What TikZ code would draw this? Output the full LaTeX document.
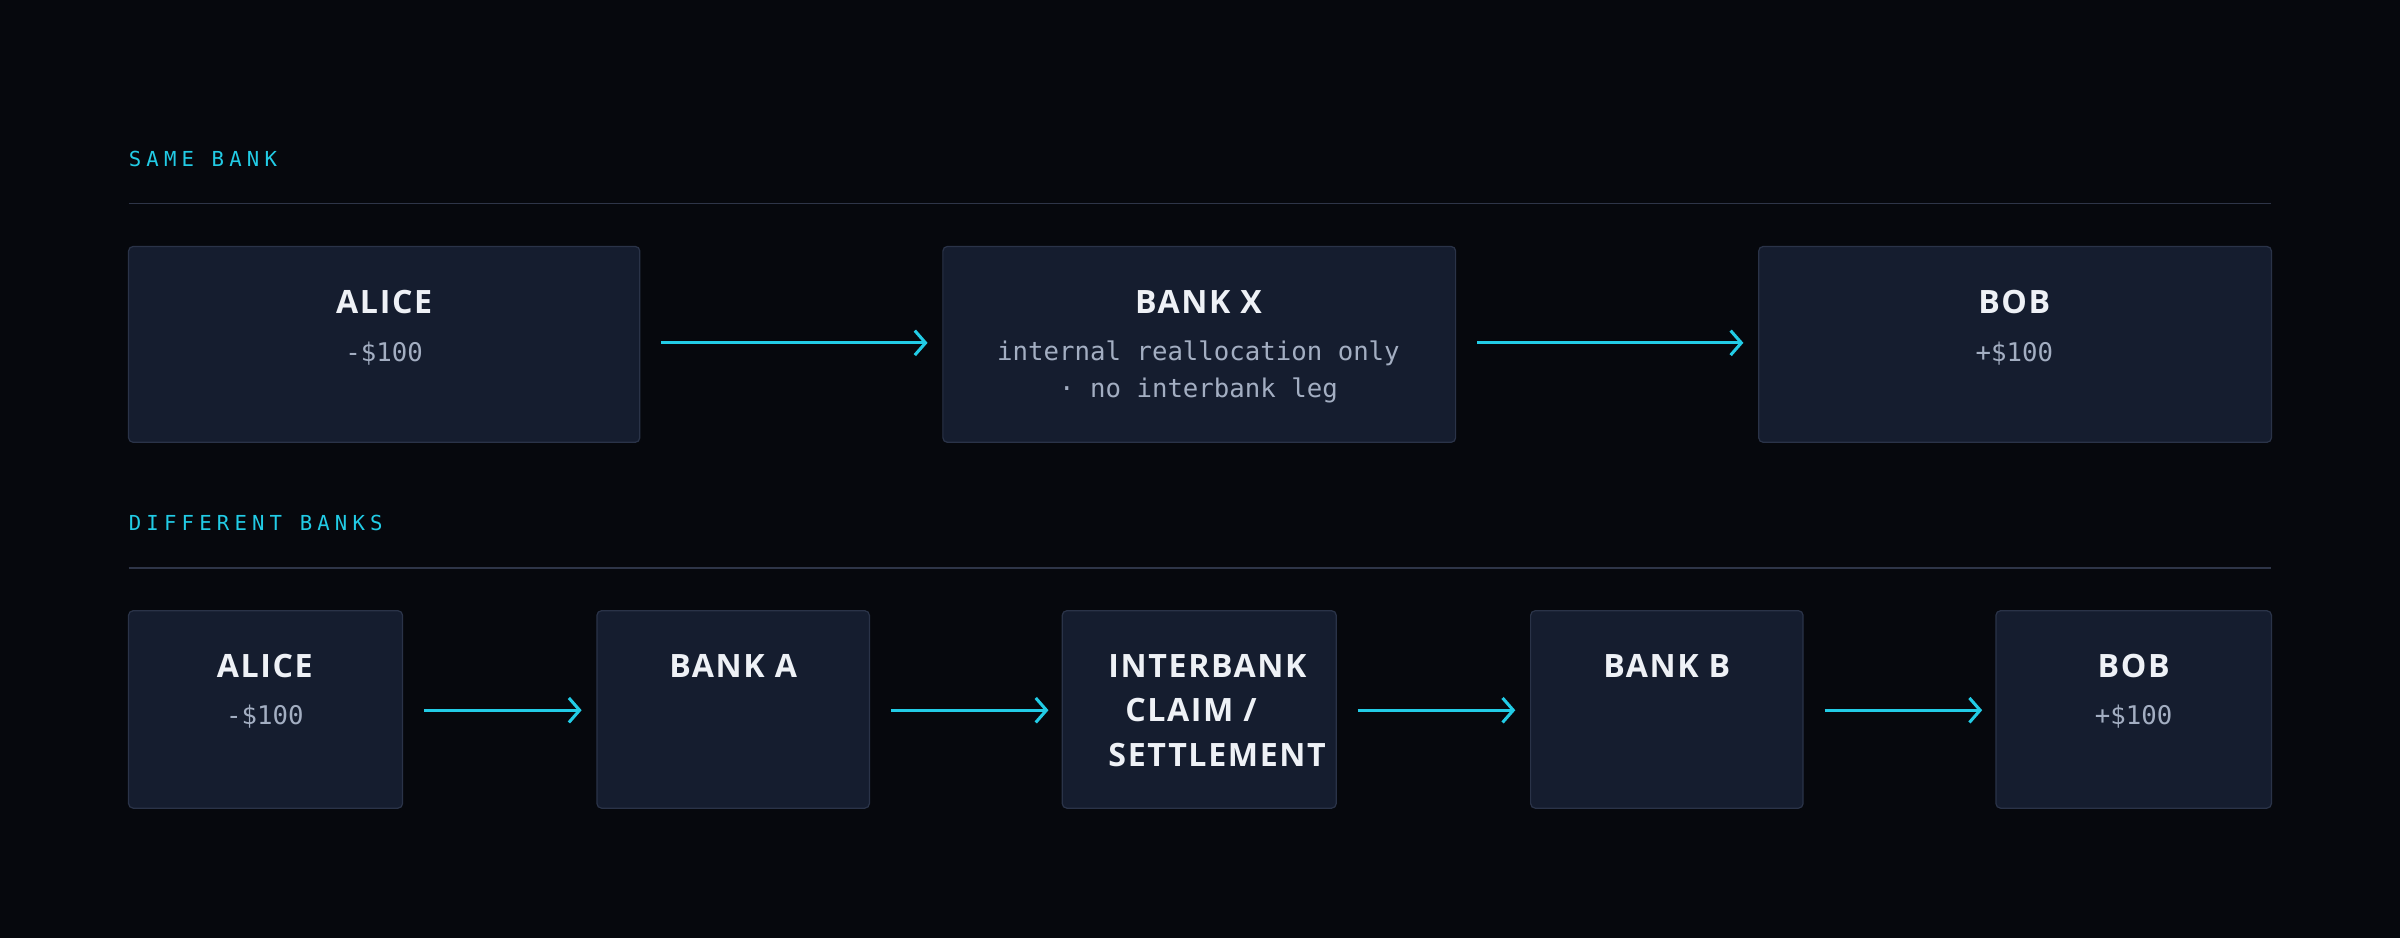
\documentclass[tikz,border=0pt]{standalone}
\usepackage{fontspec}
\setmainfont{Open Sans}
\newfontfamily\ttlf{Open Sans}[LetterSpace=5]
\newfontfamily\monof{DejaVu Sans Mono}
\newfontfamily\labf{DejaVu Sans Mono}[LetterSpace=25]
\usetikzlibrary{arrows.meta}
\definecolor{bg}{HTML}{06080D}
\definecolor{boxf}{HTML}{151D2F}
\definecolor{boxd}{HTML}{2A3348}
\definecolor{cy}{HTML}{22CCE6}
\definecolor{rule}{HTML}{2E3548}
\definecolor{sub}{HTML}{A3AEC2}
\definecolor{ttl}{HTML}{EEF1F6}
\begin{document}
\begin{tikzpicture}[x=1pt,y=-1pt,
 box/.style={draw=boxd,fill=boxf,rounded corners=3pt,line width=0.8pt},
 ttl/.style={text=ttl,font=\ttlf\fontsize{21}{26}\selectfont\bfseries,inner sep=0pt},
 sub/.style={text=sub,font=\monof\fontsize{16.8}{20}\selectfont,inner sep=0pt},
 lab/.style={text=cy,font=\labf\fontsize{13.5}{16}\selectfont,inner sep=0pt,anchor=west},
 arr/.style={draw=cy,line width=2pt,-{Straight Barb[length=7pt,width=16pt,line width=2pt]}}]
\fill[bg] (0,0) rectangle (1568,613);
\useasboundingbox (0,0) rectangle (1568,613);
% section 1
\node[lab] (l1) at (84,104) {SAME BANK};
\draw[rule,line width=1pt] (84,133) -- (1484,133);
\draw[box] (84,161) rectangle (418,289);
\draw[box] (616,161) rectangle (951,289);
\draw[box] (1149,161) rectangle (1484,289);
\node[ttl] (t1) at (251,197) {ALICE};
\node[sub] (s1) at (251,231) {-\$100};
\node[ttl] (t2) at (783,197) {BANK X};
\node[sub] (s2) at (783,231) {internal reallocation only};
\node[sub] (s2b) at (783,255) {· no interbank leg};
\node[ttl] (t3) at (1316,197) {BOB};
\node[sub] (s3) at (1316,231) {+\$100};
\coordinate (a1) at (432,224); \coordinate (b1) at (606,224);
\coordinate (a2) at (965,224); \coordinate (b2) at (1139,224);
\draw[arr] (a1) -- (b1);
\draw[arr] (a2) -- (b2);
% section 2
\node[lab] (l2) at (84,342) {DIFFERENT BANKS};
\draw[rule,line width=1pt] (84,371) -- (1484,371);
\draw[box] (84,399) rectangle (263,528);
\draw[box] (390,399) rectangle (568,528);
\draw[box] (694,399) rectangle (873,528);
\draw[box] (1000,399) rectangle (1178,528);
\draw[box] (1304,399) rectangle (1484,528);
\node[ttl] (u1) at (173,435) {ALICE};
\node[sub] (v1) at (173,468) {-\$100};
\node[ttl] (u2) at (479,435) {BANK A};
\node[ttl,anchor=west] (u3) at (724,435) {INTERBANK};
\node[ttl,anchor=west] (u3b) at (735,464) {CLAIM /};
\node[ttl,anchor=west] (u3c) at (724,493) {SETTLEMENT};
\node[ttl] (u4) at (1089,435) {BANK B};
\node[ttl] (u5) at (1394,435) {BOB};
\node[sub] (v5) at (1394,468) {+\$100};
\foreach \s/\e [count=\i] in {277/380,582/685,887/990,1192/1295}{
 \coordinate (p\i) at (\s,464); \coordinate (q\i) at (\e,464);
 \draw[arr] (p\i) -- (q\i);}
\end{tikzpicture}
\end{document}
